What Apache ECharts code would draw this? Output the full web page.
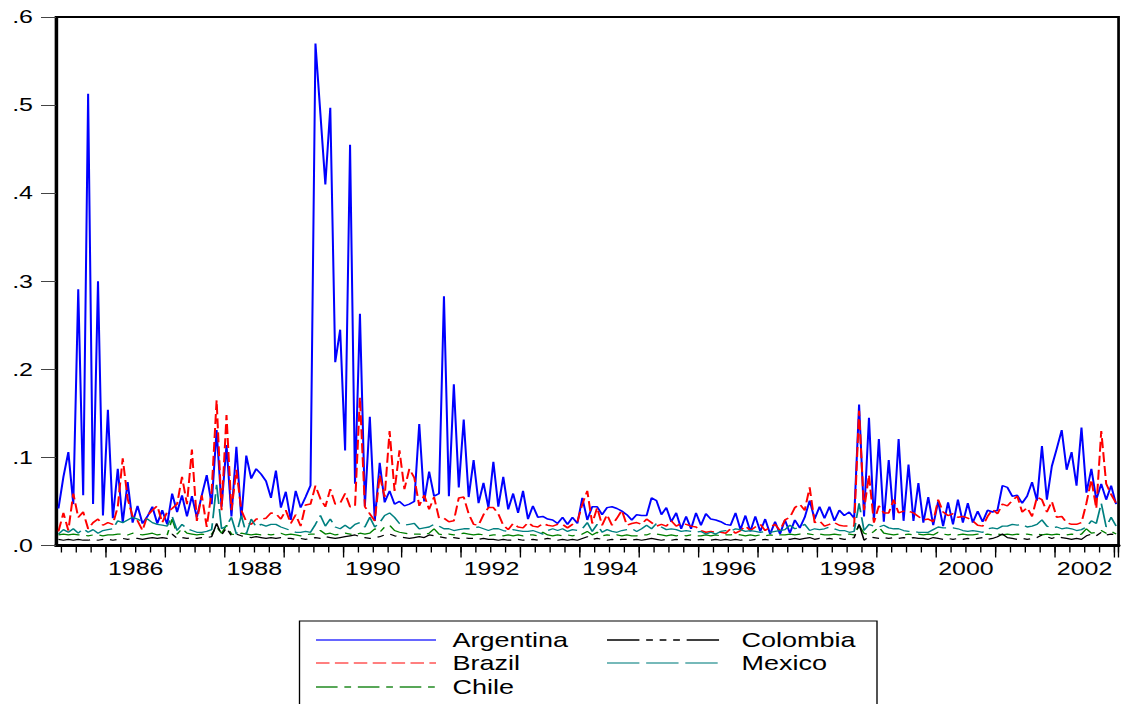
<!DOCTYPE html>
<html><head><meta charset="utf-8">
<script src="https://cdn.jsdelivr.net/npm/echarts@6/dist/echarts.min.js"></script>
<style>
html,body{margin:0;padding:0;background:#fff;overflow:hidden;width:1125px;height:704px}
#wrap{width:833.333px;height:704px;transform:scaleX(1.35);transform-origin:0 0;}
</style>
</head><body><div id="wrap"></div>
<script>
// Monthly series, 1985M03 .. 2003M01
const startYear = 1985, startMonth = 3;
const argentina = [
0.042,0.078,0.106,0.047,0.291,0.057,0.513,0.047,0.300,0.034,0.154,0.031,
0.087,0.026,0.072,0.026,0.045,0.025,0.033,0.044,0.025,0.040,0.024,0.059,
0.038,0.057,0.033,0.056,0.032,0.057,0.080,0.047,0.131,0.044,0.114,0.033,
0.112,0.030,0.102,0.076,0.087,0.081,0.073,0.054,0.085,0.043,0.061,0.029,
0.062,0.043,0.055,0.068,0.570,0.490,0.410,0.497,0.208,0.245,0.108,0.455,
0.070,0.263,0.045,0.146,0.028,0.094,0.049,0.062,0.047,0.050,0.045,0.047,
0.050,0.138,0.050,0.084,0.056,0.059,0.283,0.056,0.183,0.066,0.143,0.055,
0.097,0.048,0.071,0.043,0.095,0.044,0.078,0.041,0.059,0.037,0.062,0.030,
0.045,0.032,0.033,0.030,0.029,0.025,0.032,0.024,0.032,0.025,0.054,0.029,
0.044,0.044,0.035,0.043,0.044,0.042,0.039,0.035,0.029,0.035,0.034,0.034,
0.054,0.051,0.035,0.043,0.027,0.037,0.019,0.033,0.019,0.037,0.023,0.036,
0.030,0.029,0.027,0.024,0.023,0.037,0.018,0.034,0.016,0.033,0.016,0.030,
0.013,0.027,0.013,0.029,0.014,0.029,0.020,0.032,0.051,0.030,0.044,0.031,
0.044,0.028,0.040,0.034,0.038,0.031,0.160,0.033,0.145,0.028,0.121,0.027,
0.097,0.029,0.121,0.028,0.092,0.028,0.071,0.026,0.055,0.023,0.050,0.022,
0.049,0.024,0.052,0.026,0.048,0.026,0.039,0.027,0.040,0.038,0.040,0.068,
0.066,0.056,0.057,0.048,0.056,0.072,0.051,0.113,0.052,0.090,0.110,0.131,
0.086,0.106,0.068,0.134,0.060,0.087,0.052,0.070,0.052,0.068,0.047];
const brazil = [
0.016,0.037,0.017,0.059,0.032,0.038,0.019,0.026,0.030,0.023,0.026,0.024,
0.044,0.099,0.053,0.033,0.028,0.017,0.034,0.040,0.045,0.026,0.038,0.042,
0.047,0.078,0.047,0.109,0.028,0.057,0.021,0.062,0.165,0.040,0.148,0.040,
0.086,0.040,0.027,0.024,0.030,0.030,0.031,0.037,0.036,0.030,0.040,0.025,
0.035,0.022,0.046,0.047,0.068,0.053,0.044,0.064,0.047,0.048,0.059,0.044,
0.044,0.168,0.044,0.036,0.028,0.080,0.055,0.130,0.062,0.108,0.064,0.087,
0.077,0.045,0.057,0.041,0.055,0.031,0.031,0.027,0.028,0.054,0.055,0.036,
0.024,0.023,0.035,0.043,0.043,0.036,0.023,0.018,0.025,0.021,0.020,0.026,
0.022,0.021,0.025,0.023,0.022,0.024,0.024,0.020,0.024,0.027,0.047,0.062,
0.025,0.043,0.023,0.035,0.023,0.031,0.040,0.023,0.025,0.026,0.024,0.030,
0.026,0.022,0.024,0.022,0.028,0.022,0.025,0.024,0.022,0.021,0.017,0.015,
0.016,0.015,0.015,0.014,0.019,0.014,0.017,0.022,0.017,0.021,0.024,0.017,
0.021,0.024,0.017,0.029,0.032,0.043,0.047,0.040,0.066,0.026,0.028,0.022,
0.024,0.026,0.023,0.022,0.022,0.022,0.153,0.040,0.080,0.026,0.045,0.037,
0.037,0.052,0.037,0.039,0.039,0.037,0.033,0.029,0.030,0.027,0.052,0.038,
0.034,0.036,0.032,0.033,0.031,0.028,0.023,0.022,0.033,0.041,0.036,0.047,
0.045,0.051,0.056,0.038,0.043,0.033,0.055,0.052,0.038,0.050,0.032,0.033,
0.026,0.024,0.024,0.026,0.048,0.075,0.042,0.130,0.070,0.058,0.048];
const chile = [
0.012,0.013,0.012,0.013,0.012,0.012,0.011,0.012,0.012,0.011,0.012,0.012,
0.013,0.013,0.012,0.014,0.013,0.012,0.013,0.014,0.012,0.013,0.012,0.030,
0.013,0.019,0.014,0.013,0.012,0.013,0.012,0.013,0.021,0.014,0.023,0.013,
0.012,0.014,0.013,0.012,0.013,0.012,0.013,0.012,0.013,0.014,0.012,0.013,
0.012,0.011,0.012,0.013,0.013,0.017,0.013,0.014,0.012,0.013,0.014,0.013,
0.012,0.014,0.013,0.014,0.019,0.015,0.021,0.023,0.017,0.015,0.014,0.013,
0.013,0.013,0.012,0.014,0.019,0.013,0.012,0.013,0.012,0.013,0.014,0.013,
0.012,0.013,0.012,0.011,0.012,0.012,0.011,0.012,0.011,0.012,0.011,0.012,
0.012,0.011,0.015,0.012,0.011,0.012,0.011,0.012,0.011,0.012,0.013,0.016,
0.012,0.015,0.011,0.012,0.011,0.012,0.011,0.012,0.011,0.011,0.012,0.012,
0.014,0.013,0.012,0.011,0.012,0.011,0.012,0.011,0.012,0.011,0.011,0.012,
0.011,0.012,0.011,0.012,0.012,0.013,0.012,0.011,0.012,0.011,0.012,0.011,
0.012,0.011,0.012,0.012,0.013,0.012,0.013,0.014,0.013,0.012,0.013,0.012,
0.012,0.013,0.012,0.012,0.013,0.012,0.023,0.014,0.012,0.016,0.021,0.014,
0.013,0.012,0.013,0.012,0.013,0.012,0.013,0.012,0.013,0.012,0.015,0.013,
0.012,0.013,0.012,0.013,0.012,0.012,0.013,0.012,0.013,0.012,0.013,0.012,
0.013,0.012,0.013,0.012,0.013,0.012,0.013,0.012,0.013,0.012,0.013,0.012,
0.012,0.013,0.012,0.013,0.019,0.014,0.015,0.017,0.014,0.016,0.013];
const colombia = [
0.007,0.006,0.007,0.006,0.007,0.006,0.006,0.007,0.006,0.007,0.007,0.006,
0.007,0.008,0.007,0.008,0.008,0.007,0.008,0.009,0.008,0.009,0.008,0.013,
0.008,0.009,0.008,0.009,0.008,0.009,0.009,0.010,0.025,0.012,0.020,0.011,
0.013,0.011,0.010,0.009,0.010,0.009,0.008,0.009,0.008,0.009,0.008,0.008,
0.007,0.008,0.007,0.008,0.009,0.008,0.010,0.009,0.008,0.009,0.010,0.011,
0.012,0.010,0.009,0.008,0.009,0.010,0.012,0.013,0.011,0.010,0.009,0.008,
0.009,0.010,0.009,0.012,0.011,0.010,0.009,0.008,0.009,0.008,0.009,0.008,
0.008,0.007,0.008,0.007,0.007,0.006,0.007,0.006,0.006,0.007,0.006,0.006,
0.007,0.006,0.007,0.008,0.007,0.006,0.007,0.006,0.007,0.006,0.008,0.010,
0.007,0.008,0.007,0.006,0.007,0.006,0.007,0.007,0.006,0.007,0.006,0.007,
0.008,0.007,0.006,0.007,0.006,0.007,0.006,0.007,0.006,0.006,0.007,0.006,
0.006,0.007,0.006,0.007,0.006,0.007,0.006,0.007,0.006,0.007,0.006,0.007,
0.006,0.007,0.007,0.008,0.007,0.008,0.007,0.008,0.009,0.007,0.008,0.007,
0.008,0.007,0.008,0.007,0.008,0.009,0.024,0.006,0.010,0.009,0.008,0.009,
0.008,0.009,0.008,0.009,0.008,0.009,0.008,0.008,0.007,0.009,0.008,0.007,
0.008,0.007,0.008,0.007,0.008,0.007,0.008,0.009,0.007,0.008,0.010,0.013,
0.009,0.008,0.007,0.008,0.007,0.008,0.009,0.012,0.010,0.008,0.010,0.009,
0.008,0.007,0.008,0.007,0.011,0.013,0.011,0.015,0.012,0.013,0.012];
const mexico = [
0.013,0.018,0.015,0.019,0.014,0.019,0.015,0.018,0.014,0.017,0.018,0.019,
0.028,0.026,0.029,0.032,0.030,0.027,0.030,0.026,0.024,0.023,0.022,0.033,
0.017,0.024,0.019,0.017,0.015,0.015,0.016,0.018,0.069,0.019,0.022,0.032,
0.013,0.034,0.013,0.030,0.021,0.024,0.022,0.024,0.024,0.021,0.019,0.017,
0.015,0.015,0.016,0.015,0.024,0.034,0.022,0.030,0.021,0.019,0.023,0.019,
0.024,0.026,0.021,0.032,0.021,0.026,0.034,0.037,0.032,0.025,0.023,0.024,
0.025,0.019,0.020,0.021,0.024,0.022,0.019,0.019,0.017,0.018,0.019,0.019,
0.020,0.021,0.019,0.017,0.019,0.019,0.017,0.016,0.018,0.017,0.016,0.016,
0.017,0.015,0.013,0.017,0.019,0.017,0.019,0.016,0.018,0.017,0.019,0.026,
0.016,0.024,0.015,0.018,0.016,0.015,0.017,0.018,0.019,0.016,0.019,0.023,
0.019,0.025,0.021,0.018,0.019,0.018,0.016,0.017,0.016,0.015,0.016,0.013,
0.015,0.013,0.016,0.017,0.016,0.019,0.018,0.016,0.017,0.016,0.015,0.016,
0.015,0.016,0.017,0.018,0.023,0.019,0.021,0.024,0.017,0.019,0.018,0.019,
0.021,0.019,0.017,0.017,0.015,0.016,0.048,0.017,0.024,0.022,0.021,0.023,
0.020,0.019,0.019,0.017,0.016,0.016,0.015,0.015,0.015,0.018,0.021,0.020,
0.020,0.020,0.019,0.017,0.016,0.017,0.016,0.015,0.019,0.020,0.019,0.022,
0.022,0.024,0.023,0.024,0.021,0.022,0.024,0.029,0.022,0.020,0.021,0.019,
0.020,0.019,0.017,0.018,0.021,0.028,0.025,0.048,0.021,0.032,0.022];
const seriesNames = ['Argentina', 'Brazil', 'Chile', 'Colombia', 'Mexico'];
const yearLabels = ['1986','1988','1990','1992','1994','1996','1998','2000','2002'];
const yTickLabels = ['.0','.1','.2','.3','.4','.5','.6'];

// month categories
const months = [];
for (let k = 0; k < argentina.length; k++) {
  const t = startYear * 12 + (startMonth - 1) + k;
  const y = Math.floor(t / 12), m = t % 12 + 1;
  months.push(y + '-' + (m < 10 ? '0' : '') + m);
}

const SX = 1.35;                 // horizontal stretch of the whole picture
const W = 1125 / SX;
const px = v => v / SX;           // screen x -> chart x
const FONT = 'Liberation Sans';
const FS = 18.5;
const LFS = 20;

const STY = {
  Argentina: {color: '#0000ff', width: 1.5, type: 'solid'},
  Brazil:    {color: '#ff0000', width: 1.5, type: [10, 4]},
  Chile:     {color: '#008000', width: 1.2, type: [16, 5, 5, 5]},
  Colombia:  {color: '#000000', width: 1.2, type: [24, 5, 5, 5, 5, 5, 5, 5]},
  Mexico:    {color: '#008080', width: 1.3, type: [24, 5]}
};
const KEY_COLOR = {Argentina: '#3333ff', Brazil: '#ff5555', Chile: '#228b22', Colombia: '#000000', Mexico: '#4aa3a3'};

// legend key layout (screen px): two columns, three rows
const keyCols = [{x1: 316, x2: 436, tx: 452.5}, {x1: 607, x2: 723, tx: 741.5}];
const keyRows = [640, 663, 687];
const keyPos = {Argentina: [0, 0], Brazil: [0, 1], Chile: [0, 2], Colombia: [1, 0], Mexico: [1, 1]};

const graphics = [{
  type: 'rect', silent: true, z: 0,
  shape: {x: px(299.5), y: 621, width: px(877 - 299.5), height: 120},
  style: {fill: 'none', stroke: '#000', lineWidth: 1}
}];
seriesNames.forEach(n => {
  const c = keyCols[keyPos[n][0]], y = keyRows[keyPos[n][1]];
  const s = STY[n];
  graphics.push({
    type: 'line', silent: true,
    shape: {x1: px(c.x1), y1: y, x2: px(c.x2), y2: y},
    style: {stroke: KEY_COLOR[n], lineWidth: 1.3,
            lineDash: Array.isArray(s.type) ? s.type.slice() : null}
  });
  graphics.push({
    type: 'text', silent: true,
    style: {x: px(c.tx), y: y, text: n, fill: '#000', font: LFS + 'px "' + FONT + '"',
            align: 'left', verticalAlign: 'middle'}
  });
});

const chart = echarts.init(document.getElementById('wrap'), null, {renderer: 'svg'});
const mon = v => +v.slice(5);

chart.setOption({
  animation: false,
  backgroundColor: '#fff',
  grid: {left: px(56), right: W - px(1119), top: 17, bottom: 158.5,
         show: true, borderColor: '#000', borderWidth: 2, backgroundColor: 'transparent'},
  xAxis: [{
    type: 'category', data: months, boundaryGap: true,
    axisLine: {show: true, lineStyle: {color: '#000', width: 3}},
    axisTick: {show: true, length: 7, interval: (i, v) => [1,4,7,10].indexOf(mon(v)) >= 0,
               lineStyle: {color: '#000', width: 1}},
    axisLabel: {show: false}, splitLine: {show: false}
  }, {
    type: 'category', data: months, boundaryGap: true, position: 'bottom',
    axisLine: {show: false},
    axisTick: {show: true, length: 12, interval: (i, v) => mon(v) === 1,
               lineStyle: {color: '#000', width: 1}},
    axisLabel: {show: true, interval: (i, v) => mon(v) === 1 && yearLabels.indexOf(v.slice(0,4)) >= 0,
                formatter: v => v.slice(0,4), align: 'left', margin: 14,
                fontFamily: FONT, fontSize: FS, color: '#000'},
    splitLine: {show: false}
  }],
  yAxis: {
    type: 'value', min: 0, max: 0.6, interval: 0.1,
    axisLine: {show: true, lineStyle: {color: '#000', width: 2.2}},
    axisTick: {show: true, length: px(15), lineStyle: {color: '#444', width: 1}},
    axisLabel: {margin: px(56 - 33), fontFamily: FONT, fontSize: FS, color: '#000',
                formatter: v => yTickLabels[Math.round(v * 10)]},
    splitLine: {show: false}
  },
  graphic: graphics,
  series: seriesNames.map((n, k) => ({
    name: n, type: 'line', data: [argentina, brazil, chile, colombia, mexico][k],
    symbol: 'none', silent: true,
    lineStyle: {color: STY[n].color, width: STY[n].width, type: Array.isArray(STY[n].type) ? STY[n].type.slice() : STY[n].type},
    itemStyle: {color: STY[n].color}
  }))
});
</script>
</body></html>
